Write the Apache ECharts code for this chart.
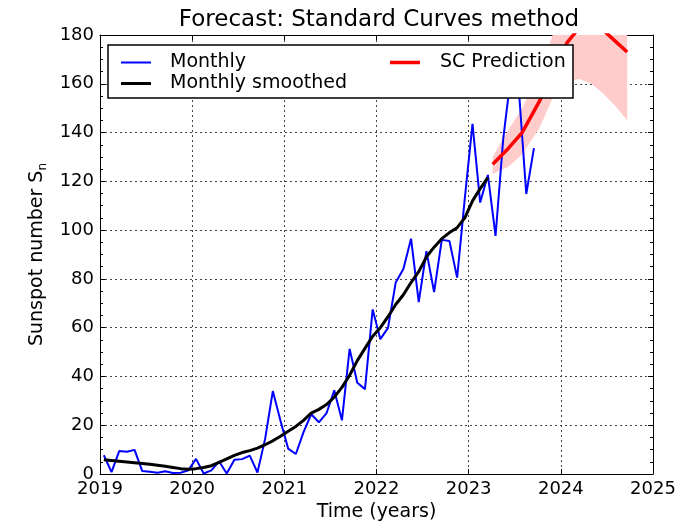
<!DOCTYPE html>
<html>
<head>
<meta charset="utf-8">
<script src="https://cdn.jsdelivr.net/npm/echarts@6/dist/echarts.min.js"></script>
<style>html,body{margin:0;padding:0;background:#fff}#c{width:700px;height:524px}</style>
</head>
<body>
<div id="c"></div>
<script>
// Monthly sunspot numbers, Jan 2019 .. Sep 2023 (one per month)
var monthlyStartYear = 2019;
var monthly = [
  7.7, 0.8, 9.4, 9.1, 9.9, 1.2, 0.9, 0.5, 1.1, 0.4, 0.5, 1.5,
  6.2, 0.2, 1.5, 5.2, 0.2, 5.8, 6.1, 7.5, 0.6, 14.4, 34.0, 21.8,
  10.4, 8.2, 17.2, 24.5, 21.2, 25.0, 34.3, 22.0, 51.3, 37.4, 34.8, 67.5,
  55.3, 59.9, 78.5, 84.1, 96.5, 70.5, 91.4, 74.6, 96.0, 95.5, 80.5, 113.1,
  143.6, 111.3, 122.6, 97.6, 137.4, 163.4, 159.1, 114.8, 133.6
];
// 13-month smoothed, Jan 2019 .. Mar 2023
var smoothed = [
  5.8, 5.5, 5.2, 4.9, 4.6, 4.3, 4.0, 3.6, 3.2, 2.7, 2.2, 1.9,
  2.2, 2.7, 3.4, 4.8, 6.2, 7.6, 8.8, 9.6, 10.6, 12.0, 13.6, 15.5,
  17.5, 19.5, 22.0, 25.0, 26.5, 28.5, 31.5, 35.5, 40.5, 46.5, 51.5, 56.5,
  60.0, 64.5, 69.5, 73.5, 78.5, 83.0, 89.0, 93.0, 96.5, 99.0, 101.0, 105.0,
  112.0, 117.0, 121.5
];
// SC prediction with uncertainty band
var predYears = [2023.26, 2023.43, 2023.58, 2023.77, 2023.92, 2024.07, 2024.20, 2024.33, 2024.46, 2024.59, 2024.72];
var predMid   = [127, 133.5, 140, 153, 165, 177, 183, 185, 182, 177.5, 173];
var predLow   = [123, 126, 131, 142, 155, 161, 162, 160, 156, 151, 145];
var predHigh  = [130, 141, 150, 165, 181, 190, 198, 203, 205, 205, 203];
var yearTicks = [2019, 2020, 2021, 2022, 2023, 2024, 2025];

function monthX(i) { return monthlyStartYear + (i + 0.5) / 12; }
var monthlyData = monthly.map(function (v, i) { return [monthX(i), v]; });
var smoothData = smoothed.map(function (v, i) { return [monthX(i), v]; });
var midData = predYears.map(function (x, i) { return [x, predMid[i]]; });
var bandData = predYears.map(function (x, i) { return [x, predLow[i], predHigh[i]]; });

var FONT = 'DejaVu Sans';
var chart = echarts.init(document.getElementById('c'), null, {renderer: 'canvas'});
var gridLine = {show: true, lineStyle: {color: '#444', width: 1, type: [2, 3]}};
var axLine = {show: true, onZero: false, lineStyle: {color: '#000', width: 1}};

function legendBox(name, left, top, h, pad) {
  return {
    z: 20, orient: 'vertical', left: left, top: top, padding: 0,
    data: [{name: name, icon: 'rect'}],
    itemWidth: 30, itemHeight: h, itemGap: 0,
    textStyle: {fontFamily: FONT, fontSize: 19, color: '#000', padding: [0, 0, 0, pad]}
  };
}

chart.setOption({
  animation: false,
  backgroundColor: '#fff',
  textStyle: {fontFamily: FONT},
  title: {
    text: 'Forecast: Standard Curves method',
    left: 374, top: 4, textAlign: 'center',
    textStyle: {fontFamily: FONT, fontSize: 23, fontWeight: 'normal', color: '#000'}
  },
  grid: {left: 100, right: 47, top: 35, bottom: 50, containLabel: false, outerBoundsMode: 'none'},
  xAxis: [{
    type: 'value', min: yearTicks[0], max: yearTicks[yearTicks.length - 1], interval: 1,
    position: 'bottom',
    name: 'Time (years)', nameLocation: 'middle', nameGap: 29,
    nameTextStyle: {fontFamily: FONT, fontSize: 19, color: '#000'},
    axisLine: axLine,
    axisTick: {show: true, inside: true, length: 5, lineStyle: {color: '#000'}},
    axisLabel: {fontFamily: FONT, fontSize: 18, color: '#000', margin: 6, formatter: function (v) { return String(v); }},
    splitLine: gridLine
  }, {
    type: 'value', min: yearTicks[0], max: yearTicks[yearTicks.length - 1], interval: 1,
    position: 'top',
    axisLine: axLine,
    axisTick: {show: true, inside: true, length: 5, lineStyle: {color: '#000'}},
    axisLabel: {show: false},
    splitLine: {show: false}
  }],
  yAxis: [{
    type: 'value', min: 0, max: 180, interval: 20,
    position: 'left',
    name: '{a|Sunspot number S}{b|n}', nameLocation: 'middle', nameGap: 50, nameRotate: 90,
    nameTextStyle: {
      color: '#000',
      rich: {
        a: {fontFamily: FONT, fontSize: 19, color: '#000', lineHeight: 24},
        b: {fontFamily: FONT, fontSize: 12, color: '#000', lineHeight: 24, verticalAlign: 'bottom'}
      }
    },
    axisLine: axLine,
    axisTick: {show: true, inside: true, length: 5, lineStyle: {color: '#000'}},
    minorTick: {show: true, splitNumber: 4, length: 3, lineStyle: {color: '#000'}},
    axisLabel: {fontFamily: FONT, fontSize: 18, color: '#000', margin: 6},
    splitLine: gridLine
  }, {
    type: 'value', min: 0, max: 180, interval: 20,
    position: 'right',
    axisLine: axLine,
    axisTick: {show: true, inside: true, length: 5, lineStyle: {color: '#000'}},
    minorTick: {show: true, splitNumber: 4, length: 3, lineStyle: {color: '#000'}},
    axisLabel: {show: false},
    splitLine: {show: false}
  }],
  legend: [
    legendBox('Monthly', 121, 53, 2, 14),
    legendBox('Monthly smoothed', 121, 74, 3, 14),
    legendBox('SC Prediction', 390, 53, 3.5, 15)
  ],
  graphic: [{
    type: 'rect', z: 10, zlevel: 0,
    shape: {x: 108, y: 45, width: 465, height: 53},
    style: {fill: '#fff', stroke: '#000', lineWidth: 1.5}
  }],
  series: [{
    name: 'band', type: 'custom', data: bandData, clip: true, silent: true, z: 1,
    encode: {x: 0, y: [1, 2]},
    renderItem: function (params, api) {
      if (params.dataIndex !== 0) return null;
      var pts = [];
      for (var i = 0; i < bandData.length; i++) pts.push(api.coord([bandData[i][0], bandData[i][2]]));
      for (var j = bandData.length - 1; j >= 0; j--) pts.push(api.coord([bandData[j][0], bandData[j][1]]));
      var cs = params.coordSys;
      return {
        type: 'polygon',
        shape: {points: pts},
        style: {fill: '#ffcccc', stroke: null},
        clipPath: {type: 'rect', shape: {x: cs.x, y: cs.y, width: cs.width, height: cs.height}}
      };
    }
  }, {
    name: 'Monthly', type: 'line', data: monthlyData,
    symbol: 'none', lineStyle: {color: '#0000ff', width: 2}, itemStyle: {color: '#0000ff'}, z: 3
  }, {
    name: 'Monthly smoothed', type: 'line', data: smoothData,
    symbol: 'none', lineStyle: {color: '#000', width: 3}, itemStyle: {color: '#000'}, z: 4
  }, {
    name: 'SC Prediction', type: 'line', data: midData,
    symbol: 'none', lineStyle: {color: '#ff0000', width: 3.5}, itemStyle: {color: '#ff0000'}, z: 5
  }]
});
</script>
</body>
</html>
